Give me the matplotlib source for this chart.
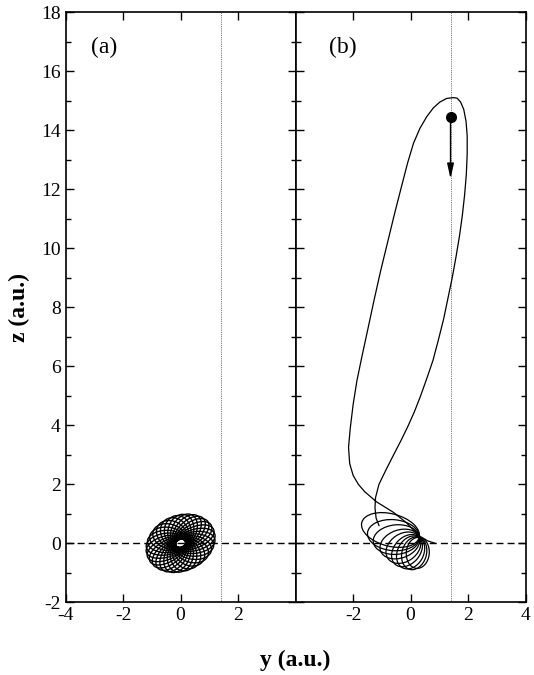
import numpy as np
import matplotlib
matplotlib.use("Agg")
import matplotlib.pyplot as plt
from matplotlib.patches import Ellipse
from matplotlib.transforms import Affine2D
from matplotlib.ticker import MultipleLocator

plt.rcParams['font.family'] = ['Liberation Serif', 'DejaVu Serif']
plt.rcParams['axes.unicode_minus'] = False

# panel (a): precessing Kepler ellipses (focus at the nucleus)
kepler_a = 0.6
kepler_e = 0.75
rosette_angles = [0, 12, 24, 36, 48, 60, 72, 84, 96, 108,
                  120, 132, 144, 156, 168, 180, 192, 204, 216, 228,
                  240, 252, 264, 276, 288, 300, 312, 324, 336, 348]
rosette_stretch = (1.18, 0.9)
rosette_tilt = 22

# panel (b): the long excursion
loop_y = [-1.1, -1.2, -1.24, -1.22, -1.1, -0.85, -0.6, -0.35, -0.1, 0.13,
          0.35, 0.57, 0.78, 0.97, 1.15, 1.3, 1.45, 1.58, 1.7, 1.8,
          1.88, 1.94, 1.97, 1.97, 1.93, 1.85, 1.74, 1.62, 1.49, 1.25,
          1.02, 0.79, 0.56, 0.32, 0.1, -0.1, -0.3, -0.55, -0.8, -1.05,
          -1.28, -1.5, -1.7, -1.87, -2.0, -2.1, -2.16, -2.12, -2.0, -1.82,
          -1.6, -1.18, -0.6, -0.15, 0.3, 0.6, 0.85]
loop_z = [0.6, 0.85, 1.2, 1.55, 2.0, 2.5, 2.98, 3.45, 3.95, 4.45,
          5.0, 5.6, 6.2, 6.9, 7.6, 8.3, 9.0, 9.7, 10.4, 11.1,
          11.8, 12.5, 13.2, 13.8, 14.3, 14.7, 14.95, 15.08, 15.1, 15.07,
          14.95, 14.75, 14.45, 14.05, 13.55, 12.9, 12.15, 11.2, 10.2, 9.2,
          8.2, 7.2, 6.3, 5.5, 4.7, 3.9, 3.25, 2.7, 2.3, 2.0,
          1.75, 1.4, 1.05, 0.7, 0.25, 0.08, 0.0]

# panel (b): small orbits near the nucleus (near end shared, far ends listed)
near_end = (0.3, 0.2)
far_y = [-1.7, -1.5, -1.3, -1.05, -0.8, -0.55, -0.3, -0.05, 0.2]
far_z = [0.7, 0.35, 0.05, -0.25, -0.5, -0.7, -0.82, -0.88, -0.85]
orbit_h = [1.1, 1.05, 1.0, 0.95, 0.95, 0.9, 0.9, 0.85, 0.8]

start_y, start_z = 1.39, 14.44
arrow_end_z = 12.35
field_line_y = [1.42, 1.39]

fig = plt.figure(figsize=(5.34, 6.75), dpi=100)
axa = fig.add_axes([0.1227, 0.1077, 0.431, 0.8745])
axb = fig.add_axes([0.5537, 0.1077, 0.4304, 0.8745])

for ax, xt, fl in [(axa, [-4, -2, 0, 2], field_line_y[0]),
                   (axb, [-2, 0, 2, 4], field_line_y[1])]:
    ax.set_xlim(-4, 4)
    ax.set_ylim(-2, 18)
    ax.set_xticks(xt)
    ax.yaxis.set_major_locator(MultipleLocator(2))
    ax.yaxis.set_minor_locator(MultipleLocator(1))
    ax.tick_params(which='both', direction='in', top=True, right=True,
                   labelsize=14, width=1.0)
    ax.tick_params(which='major', length=6)
    ax.tick_params(which='minor', length=3.5)
    for s in ax.spines.values():
        s.set_linewidth(1.2)
    ax.axhline(0, color='black', lw=1.0, ls=(0, (5, 3)), zorder=1)
    ax.axvline(fl, color='0.3', lw=0.6, ls=(0, (1, 1.2)), zorder=1)

axb.tick_params(labelleft=False)

# rosette
c = kepler_a * kepler_e
b = kepler_a * np.sqrt(1 - kepler_e ** 2)
for ang in rosette_angles:
    tr = (Affine2D().rotate_deg(ang).scale(*rosette_stretch)
          .rotate_deg(rosette_tilt) + axa.transData)
    axa.add_patch(Ellipse((-c, 0), 2 * kepler_a, 2 * b, fill=False,
                          ec='black', lw=1.0, transform=tr, zorder=3))

# long excursion
axb.plot(loop_y, loop_z, color='black', lw=0.9, zorder=3)

# near-nucleus orbits
for fy, fz, h in zip(far_y, far_z, orbit_h):
    cy = (fy + near_end[0]) / 2
    cz = (fz + near_end[1]) / 2
    w = np.hypot(near_end[0] - fy, near_end[1] - fz)
    ang = np.degrees(np.arctan2(near_end[1] - fz, near_end[0] - fy))
    axb.add_patch(Ellipse((cy, cz), w, h, angle=ang, fill=False,
                          ec='black', lw=0.9, zorder=3))

axb.plot(start_y, start_z, 'o', color='black', ms=7, zorder=4)
axb.annotate('', xy=(start_y, arrow_end_z), xytext=(start_y, start_z),
             arrowprops=dict(arrowstyle='-|>,head_length=0.9,head_width=0.2',
                             color='black', lw=1.0, shrinkA=0, shrinkB=0),
             zorder=4)

axa.text(-3.1, 16.8, '(a)', fontsize=17, va='center')
axb.text(-2.85, 16.8, '(b)', fontsize=17, va='center')

fig.text(0.5537, 0.022, 'y (a.u.)', ha='center', va='center',
         fontsize=17, fontweight='bold')
fig.text(0.037, 0.545, 'z (a.u.)', ha='center', va='center',
         fontsize=17, fontweight='bold', rotation=90)

fig.savefig('out.png', dpi=100)
